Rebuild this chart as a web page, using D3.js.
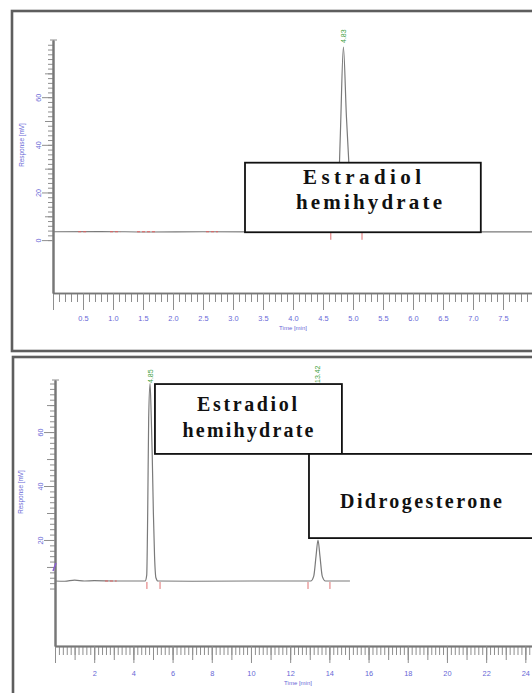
<!DOCTYPE html>
<html>
<head>
<meta charset="utf-8">
<script src="https://cdn.jsdelivr.net/npm/d3@7"></script>
<style>
body{margin:0;background:#fff}
svg{display:block}
.axis path{stroke:#777;stroke-width:1.7}
.axis line{stroke:#8e8e8e;stroke-width:1}
.axis text{fill:#6767d6;font-family:"Liberation Sans",Arial,sans-serif}
</style>
</head>
<body>
<script>
// top run : estradiol hemihydrate standard  [time min, response mV]
var topTrace = [[0,3.5],[0.8,3.6],[1.6,3.4],[2.5,3.5],[3.5,3.5],[4.6,3.5],[4.7,4],[4.75,15],[4.79,45],[4.84,81],
    [4.89,52],[4.94,28],[4.99,10],[5.06,4],[5.15,3.5],[6.5,3.5],[8.0,3.5]]
var topPeaks = [4.84]
var topPeakLabels = ["4.83"]
var topXLabels = [0.5,1.0,1.5,2.0,2.5,3.0,3.5,4.0,4.5,5.0,5.5,6.0,6.5,7.0,7.5]
var topYLabels = [0,20,40,60]
var topEvents = [4.63,5.15]
var topRedBits = [[0.42,0.58],[0.95,1.12],[1.4,1.73],[2.55,2.75]]
var topBoxText = ["Estradiol","hemihydrate"]

// bottom run : mixture
var botTrace = [[0,4.8],[0.5,4.7],[1.0,5.1],[1.5,4.8],[2.0,4.9],[3.0,4.8],[4.0,4.8],[4.6,4.8],[4.68,7],[4.73,30],
    [4.78,65],[4.85,78],[4.91,66],[4.96,52],[5.02,30],[5.08,14],[5.15,6],[5.25,4.8],[7,4.7],[10,4.8],
    [13.05,4.8],[13.2,6.5],[13.32,14],[13.42,20],[13.52,14],[13.64,6.5],[13.8,4.8],[15.05,4.8]]
var botPeaks = [4.85,13.42]
var botPeakLabels = ["4.85","13.42"]
var botXLabels = [2,4,6,8,10,12,14,16,18,20,22,24]
var botYLabels = [20,40,60]
var botEvents = [4.69,5.36,12.91,14.03]
var botRedBits = [[2.55,3.15]]
var botBoxText1 = ["Estradiol","hemihydrate"]
var botBoxText2 = ["Didrogesterone"]

var svg = d3.select("body").append("svg").attr("width",532).attr("height",693)
svg.append("rect").attr("width",532).attr("height",693).attr("fill","#fff")

function drawPanel(p){
    var g = svg.append("g")
    var x = d3.scaleLinear().domain(p.xDomain).range(p.xRange)
    var y = d3.scaleLinear().domain(p.yDomain).range(p.yRange)
    var x0 = x(0), yAx = p.yRange[0]

    g.append("rect")
        .attr("x",p.frame[0]).attr("y",p.frame[1]).attr("width",800).attr("height",p.frame[2])
        .attr("fill","none").attr("stroke","#5e5e5e").attr("stroke-width",2.6)

    // x axis: minor, medium, labelled
    g.append("g").attr("class","axis").attr("transform","translate(0,"+yAx+")")
        .call(d3.axisBottom(x).tickValues(d3.range(0,p.xDomain[1]+1e-6,p.xMinor)).tickSize(9).tickFormat("").tickSizeOuter(0))
    if(p.xMid) g.append("g").attr("class","axis").attr("transform","translate(0,"+yAx+")")
        .call(d3.axisBottom(x).tickValues(d3.range(0,p.xDomain[1],p.xMid)).tickSize(14).tickFormat("").tickSizeOuter(0))
    var xa = g.append("g").attr("class","axis").attr("transform","translate(0,"+yAx+")")
        .call(d3.axisBottom(x).tickValues([0].concat(p.xLabels)).tickSize(17).tickSizeOuter(0)
            .tickFormat(function(d){ return d===0 ? "" : p.xFormat(d) }))
    xa.selectAll("text").attr("y",p.xLabOff).attr("dy","0.35em").attr("font-size",7.4)
    g.append("text").attr("x",x(p.timeAt)).attr("y",yAx+p.xLabOff+12)
        .attr("text-anchor","middle").attr("font-size",6).attr("fill","#6767d6")
        .attr("font-family","Liberation Sans,Arial,sans-serif").text("Time [min]")

    // y axis
    var yMax = p.yDomain[1]-1
    g.append("g").attr("class","axis").attr("transform","translate("+x0+",0)")
        .call(d3.axisLeft(y).tickValues(d3.range(p.yTickStart,yMax,2)).tickSize(5).tickFormat("").tickSizeOuter(0))
    g.append("g").attr("class","axis").attr("transform","translate("+x0+",0)")
        .call(d3.axisLeft(y).tickValues(d3.range(10,yMax,20)).tickSize(8).tickFormat("").tickSizeOuter(0))
    var ya = g.append("g").attr("class","axis").attr("transform","translate("+x0+",0)")
        .call(d3.axisLeft(y).tickValues(p.yLabels).tickSize(11).tickSizeOuter(0))
    ya.selectAll("text").attr("x",0).attr("dy",0).attr("font-size",7.2).attr("text-anchor","middle")
        .attr("transform","translate(-14,0) rotate(-90)").attr("dominant-baseline","middle")
    g.append("line").attr("x1",x0-3).attr("x2",x0+4).attr("y1",p.yRange[1]).attr("y2",p.yRange[1])
        .attr("stroke","#8e8e8e")
    g.append("text").attr("transform","translate("+p.respLabel[0]+","+p.respLabel[1]+") rotate(-90)")
        .attr("text-anchor","middle").attr("font-size",6.4).attr("fill","#6767d6")
        .attr("font-family","Liberation Sans,Arial,sans-serif").text("Response [mV]")

    // trace
    var line = d3.line().x(function(d){return x(d[0])}).y(function(d){return y(d[1])}).curve(d3.curveMonotoneX)
    g.append("path").datum(p.trace).attr("d",line).attr("fill","none").attr("stroke","#7a7a7a").attr("stroke-width",1.2)

    var base = p.trace[0][1]
    g.selectAll(".redbit").data(p.redBits).enter().append("line")
        .attr("x1",function(d){return x(d[0])}).attr("x2",function(d){return x(d[1])})
        .attr("y1",y(base)).attr("y2",y(base))
        .attr("stroke","#e06060").attr("stroke-width",1.2).attr("stroke-dasharray","3,2")
    g.selectAll(".evt").data(p.events).enter().append("line")
        .attr("x1",function(d){return x(d)}).attr("x2",function(d){return x(d)})
        .attr("y1",y(base)+1).attr("y2",y(base)+8)
        .attr("stroke","#e07070").attr("stroke-width",1)

    // retention time labels
    g.selectAll(".rt").data(p.peaks).enter().append("text")
        .attr("transform",function(d){return "translate("+(x(d)+2.5)+","+(p.yRange[1]+3)+") rotate(-90)"})
        .attr("font-size",7).attr("fill","#3f9f3f").attr("font-family","Liberation Sans,Arial,sans-serif")
        .text(function(d,i){return p.peakLabels[i]})

    // annotation boxes
    p.boxes.forEach(function(b){
        var bx = x(b.t[0]), by = y(b.v[0])
        var bw = (b.t[1]==null ? 800 : x(b.t[1])-bx), bh = y(b.v[1])-by
        g.append("rect").attr("x",bx).attr("y",by).attr("width",bw).attr("height",bh)
            .attr("fill","#fff").attr("stroke","#111").attr("stroke-width",1.8)
        b.text.forEach(function(s,i){
            g.append("text").attr("x",b.cx[i]).attr("y",by+b.base[i])
                .attr("text-anchor","middle").attr("font-family","Liberation Serif,Times New Roman,serif")
                .attr("font-weight","bold").attr("font-size",b.size).attr("fill","#111")
                .attr("textLength",b.len[i]).attr("lengthAdjust","spacing")
                .text(s)
        })
    })
    return {x:x,y:y}
}

drawPanel({
    trace: topTrace, peaks: topPeaks, peakLabels: topPeakLabels,
    xDomain:[0,8], xRange:[53,533], yDomain:[-22.2,84], yRange:[293,40],
    xMinor:0.1, xMid:null, xLabels: topXLabels, xFormat: d3.format(".1f"), xLabOff:25, timeAt:4.0,
    yLabels: topYLabels, yTickStart:0, respLabel:[24,145],
    frame:[12,11,340], events: topEvents, redBits: topRedBits,
    boxes:[{t:[3.2,7.13], v:[32.5,3.3], text: topBoxText, cx:[362,369], base:[21,46], len:[118,146], size:21}]
})

var bp = drawPanel({
    trace: botTrace, peaks: botPeaks, peakLabels: botPeakLabels,
    xDomain:[0,24.34], xRange:[55,532], yDomain:[-19.3,79.3], yRange:[646,380],
    xMinor:0.2, xMid:1, xLabels: botXLabels, xFormat: d3.format("d"), xLabOff:27, timeAt:12.4,
    yLabels: botYLabels, yTickStart:2, respLabel:[23,492],
    frame:[13,357,400], events: botEvents, redBits: botRedBits,
    boxes:[{t:[5.1,14.64], v:[77.8,51.9], text: botBoxText1, cx:[247,248], base:[27,53], len:[100,131], size:20},
           {t:[12.96,null], v:[51.9,20.7], text: botBoxText2, cx:[421], base:[54], len:[162], size:20}]
})
// purple marker on the lower response axis
svg.append("line").attr("x1",bp.x(0)-2).attr("x2",bp.x(0)+1).attr("y1",bp.y(8.5)).attr("y2",bp.y(11.5))
    .attr("stroke","#8a5fd0").attr("stroke-width",1.5)
</script>
</body>
</html>
